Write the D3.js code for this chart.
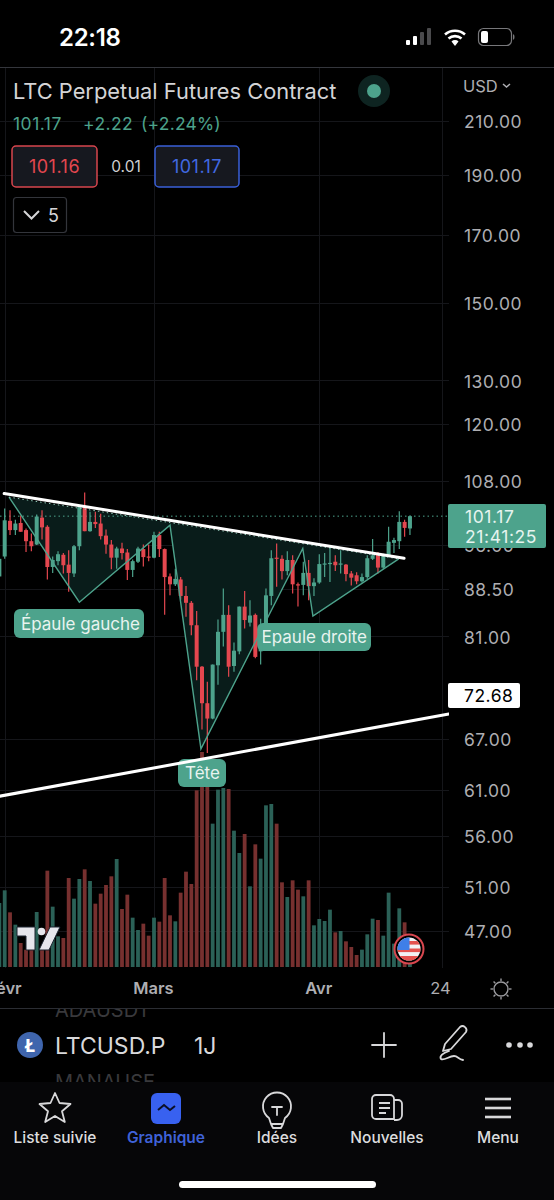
<!DOCTYPE html>
<html><head><meta charset="utf-8">
<script src="https://cdn.jsdelivr.net/npm/d3@7/dist/d3.min.js"></script>
<style>
html,body{margin:0;padding:0;background:#000;overflow:hidden}
svg{display:block}
text{font-family:Inter,Roboto,"Noto Sans",sans-serif}
</style></head><body>
<svg id="c" width="554" height="1200"></svg>
<script>
// Day index: 0 = 1 March
const firstDay = -29;
const opens  = [90.5,93.9,100.3,98.6,99.9,98.6,96.6,96.0,100.9,99.2,92.1,93.1,94.2,92.5,91.0,95.7,102.9,98.4,100.1,99.8,97.6,96.0,93.7,95.3,94.6,91.6,93.0,95.2,93.9,93.7,97.7,95.2,90.5,89.2,90.0,87.3,86.2,82.7,76.6,71.6,69.6,76.8,81.7,84.3,76.7,78.8,85.6,83.1,84.3,78.8,83.0,87.3,93.7,93.5,91.4,93.3,89.2,89.1,91.1,88.9,89.5,92.6,92.7,93.0,92.5,92.5,91.0,90.7,89.7,90.4,93.5,94.3,92.0,94.1,96.3,96.6,100.1,98.9];
const highs  = [96.2,102.6,102.3,100.5,101.3,98.9,98.0,101.5,102.3,99.5,93.9,94.8,94.5,95.0,95.9,103.2,105.7,102.0,102.0,101.6,98.7,96.8,95.6,96.3,95.2,93.4,95.6,96.0,96.0,98.3,98.3,95.3,91.0,91.8,90.4,88.9,86.5,84.9,76.7,74.5,76.9,83.6,88.5,85.8,80.1,85.6,88.1,86.6,84.5,83.7,88.5,95.0,96.2,94.1,94.8,94.1,89.5,93.0,93.3,90.2,94.3,94.5,95.7,94.1,95.0,92.6,91.4,91.2,91.0,94.1,97.0,94.7,94.4,99.2,97.2,102.1,100.5,101.3];
const lows   = [90.3,93.5,97.7,97.7,98.3,94.7,94.8,95.9,96.9,90.0,91.1,92.4,91.0,88.0,90.4,95.0,98.4,98.3,99.0,96.9,94.4,91.7,91.8,93.4,89.9,90.4,92.8,92.2,93.1,93.6,93.8,84.3,87.4,88.9,86.7,84.0,81.2,74.7,68.2,65.3,69.5,74.1,79.5,75.2,75.9,78.4,82.2,82.5,77.8,76.9,83.0,85.8,88.8,90.0,90.7,87.7,85.6,87.4,86.6,87.3,89.3,90.4,89.6,91.4,91.0,89.7,89.0,89.2,89.5,90.1,93.3,91.0,91.8,93.9,94.5,95.2,97.4,97.7];
const closes = [93.5,100.4,98.6,99.8,98.3,96.6,95.7,101.1,99.1,92.1,93.3,94.3,92.4,91.1,95.7,102.9,98.4,100.1,99.7,97.5,96.0,93.7,95.3,94.5,91.6,93.1,95.3,93.8,93.7,97.7,95.2,90.4,89.2,90.1,87.3,86.2,82.7,76.6,71.6,69.6,76.9,81.7,84.3,76.6,78.9,85.6,83.5,84.2,78.0,82.2,87.4,93.6,93.6,91.4,93.3,89.2,89.1,91.1,88.9,89.5,92.6,92.7,92.8,92.4,92.7,90.9,90.3,89.7,90.4,93.6,94.1,92.0,94.1,96.5,96.8,100.1,99.0,101.17];
const volumes = [192,230,164,127,72,52,52,165,52,289,181,92,87,267,205,264,293,258,190,220,246,272,324,174,217,148,111,130,94,148,136,267,155,137,223,286,249,530,645,570,430,532,537,534,409,342,399,242,368,325,485,489,430,254,210,260,232,212,260,125,144,138,172,104,108,77,60,36,52,98,145,141,94,223,70,176,134,22];
const priceTicks = [210,190,170,150,130,120,108,96,88.5,81,67,61,56,51,47];
const dayTicks = [-28,0,31,54];
const dayLabels = ["Févr","Mars","Avr","24"];
const patternDays   = [-27.2,-14,3,8.8,27.9,29.8,45.9];
const patternPrices = [104.8,86.3,99.5,65.8,95.3,84.1,93.5];
const upperTrendDays = [-28.1,46.9];
const upperTrendPrices = [105.5,93.6];
const lowerTrendDays = [-28.9,55.3];
const lowerTrendPrices = [60.3,70.2];
const lastPrice = 101.17;
const alertPrice = "72.68";
const patternLabels = ["Épaule gauche","Tête","Epaule droite"];
const tabLabels = ["Liste suivie","Graphique","Idées","Nouvelles","Menu"];

const GREEN="#4da38c", RED="#e4474f", VGREEN="#2b6157", VRED="#77302f", AX="#aeaeb2", GRID="#15161a";
const svg=d3.select("#c");
svg.append("rect").attr("width",554).attr("height",1200).attr("fill","#000");
const x=d3.scaleLinear().domain([0,31]).range([154,319.3]);
const y=d3.scaleLog().domain([210,47]).range([121,931]);
const v=d3.scaleLinear().domain([0,600]).range([967,767]);
const candles=opens.map((o,i)=>({day:firstDay+i,o,h:highs[i],l:lows[i],c:closes[i],vol:volumes[i],up:closes[i]>=o}));

svg.append("defs").append("clipPath").attr("id","plot").append("rect").attr("x",0).attr("y",68).attr("width",449).attr("height",900);
svg.append("line").attr("x1",0).attr("x2",554).attr("y1",67.5).attr("y2",67.5).attr("stroke","#34363c");
svg.append("line").attr("x1",0).attr("x2",554).attr("y1",1008.5).attr("y2",1008.5).attr("stroke","#2b2d33");

// grid
const plot=svg.append("g").attr("clip-path","url(#plot)");
plot.append("g").selectAll("line").data(priceTicks).join("line").attr("x1",0).attr("x2",449)
  .attr("y1",d=>Math.round(y(d))+.5).attr("y2",d=>Math.round(y(d))+.5).attr("stroke",GRID);
plot.append("g").selectAll("line").data(dayTicks).join("line").attr("y1",68).attr("y2",968)
  .attr("x1",d=>Math.round(x(d))+.5).attr("x2",d=>Math.round(x(d))+.5).attr("stroke",GRID);

// volume
plot.append("g").selectAll("rect").data(candles).join("rect")
  .attr("x",d=>x(d.day)-1.9).attr("width",3.8).attr("y",d=>v(d.vol)).attr("height",d=>967-v(d.vol))
  .attr("fill",d=>d.up?VGREEN:VRED);

// pattern
const pts=patternDays.map((d,i)=>[x(d),y(patternPrices[i])]);
const lineGen=d3.line();
plot.append("path").attr("d",lineGen(pts)+"Z").attr("fill","#091c1a");

// pills under the candles
const pill=(px,py,w,h,t,tx)=>{
  plot.append("rect").attr("x",px).attr("y",py).attr("width",w).attr("height",h).attr("rx",6).attr("fill",GREEN);
  plot.append("text").attr("x",tx).attr("y",py+h/2+6).attr("font-size",17).attr("fill","#e8f3ef").text(t);
};
pill(14,609,130,29,patternLabels[0],21);
pill(178,759,48,28,patternLabels[1],185);
pill(257,623,114,28,patternLabels[2],261.5);

// last price dotted line
plot.append("line").attr("x1",0).attr("x2",449).attr("y1",y(lastPrice)).attr("y2",y(lastPrice))
  .attr("stroke",GREEN).attr("stroke-width",1).attr("stroke-dasharray","1.5 3");

// candles
const cg=plot.append("g").selectAll("g").data(candles).join("g");
cg.append("line").attr("x1",d=>x(d.day)).attr("x2",d=>x(d.day)).attr("y1",d=>y(d.h)).attr("y2",d=>y(d.l))
  .attr("stroke",d=>d.up?GREEN:RED).attr("stroke-width",1.2);
cg.append("rect").attr("x",d=>x(d.day)-2).attr("width",4)
  .attr("y",d=>y(Math.max(d.o,d.c))).attr("height",d=>Math.max(1.2,Math.abs(y(d.o)-y(d.c))))
  .attr("fill",d=>d.up?GREEN:RED);

// pattern outline + neckline
plot.append("path").attr("d",lineGen(pts)).attr("fill","none").attr("stroke",GREEN).attr("stroke-width",1.4);
plot.append("line").attr("x1",pts[0][0]).attr("y1",pts[0][1]).attr("x2",pts[6][0]).attr("y2",pts[6][1])
  .attr("stroke","#8fc7b6").attr("stroke-width",1).attr("stroke-dasharray","1.5 3");
// white trend lines
[[upperTrendDays,upperTrendPrices],[lowerTrendDays,lowerTrendPrices]].forEach(([d,p])=>{
  plot.append("line").attr("x1",x(d[0])).attr("y1",y(p[0])).attr("x2",x(d[1])).attr("y2",y(p[1]))
    .attr("stroke","#fff").attr("stroke-width",3).attr("stroke-linecap","round");
});

// price axis
const py=svg.append("g").attr("transform","translate(464,1)").call(d3.axisRight(y).tickValues(priceTicks).tickSize(0).tickPadding(0).tickFormat(d3.format(".2f")));
py.select(".domain").remove();
py.selectAll("text").attr("font-size",17.5).attr("fill",AX).attr("font-family","Inter,Roboto,sans-serif").attr("letter-spacing",".5");
// day axis
const dx=svg.append("g").attr("transform","translate(0,982)").call(d3.axisBottom(x).tickValues(dayTicks).tickSize(0).tickPadding(0).tickFormat(d=>dayLabels[dayTicks.indexOf(d)]));
dx.select(".domain").remove();
dx.selectAll("text").attr("font-size",16.5).attr("font-weight",d=>d==54?400:600).attr("fill",AX).attr("font-family","Inter,Roboto,sans-serif")
  .attr("dx",d=>d==54?-2:-1);

// price tag
svg.append("rect").attr("x",448).attr("y",504).attr("width",98).attr("height",44).attr("rx",2).attr("fill",GREEN);
const tag=(t,yy,s)=>svg.append("text").attr("x",465).attr("y",yy).attr("font-size",s).attr("fill","#e6f4ef").attr("letter-spacing",".6").text(t);
tag(d3.format(".2f")(lastPrice),523,17.5); tag("21:41:25",543,17.5);
svg.append("rect").attr("x",448).attr("y",683).attr("width",72).attr("height",25).attr("rx",2).attr("fill","#fff");
svg.append("text").attr("x",464).attr("y",702).attr("font-size",17.5).attr("fill","#000").attr("letter-spacing",".5").text(alertPrice);

// header
const T=(t,xx,yy,s,f,o={})=>{const e=svg.append("text").attr("x",xx).attr("y",yy).attr("font-size",s).attr("fill",f).text(t);Object.entries(o).forEach(([k,w])=>e.attr(k,w));return e;};
T("LTC Perpetual Futures Contract",13,99,21.85,"#d4d4d6");
svg.append("circle").attr("cx",374).attr("cy",91).attr("r",16).attr("fill","#0e2421");
svg.append("circle").attr("cx",374).attr("cy",91).attr("r",7).attr("fill",GREEN);
T("USD",463,92,16.5,AX);
svg.append("path").attr("d","M503 84l3.5 3 3.5-3").attr("fill","none").attr("stroke",AX).attr("stroke-width",1.5);
T("101.17",13,130,17.5,GREEN,{"letter-spacing":".5"});
T("+2.22",83,130,17.5,GREEN,{"letter-spacing":".4"});
T("(+2.24%)",141,130,17.5,GREEN,{"letter-spacing":".2"});
svg.append("rect").attr("x",12).attr("y",146).attr("width",85).attr("height",41).attr("rx",4).attr("fill","#16181f").attr("stroke","#d8454d").attr("stroke-width",1.5);
T("101.16",54.5,173,18,"#e4474f",{"text-anchor":"middle","letter-spacing":".5"});
T("0.01",126,172,15.5,"#cfcfd2",{"text-anchor":"middle"});
svg.append("rect").attr("x",155).attr("y",146).attr("width",84).attr("height",41).attr("rx",4).attr("fill","#16181f").attr("stroke","#3a5fd8").attr("stroke-width",1.5);
T("101.17",197,173,18,"#4169e1",{"text-anchor":"middle","letter-spacing":".5"});
svg.append("rect").attr("x",13.5).attr("y",197.5).attr("width",53).attr("height",35).attr("rx",3).attr("fill","#000").attr("stroke","#33353b").attr("stroke-width",1.2);
svg.append("path").attr("d","M24 211l7.5 7.5 7.5-7.5").attr("fill","none").attr("stroke","#d5d5d7").attr("stroke-width",2);
T("5",48,222,18,"#d5d5d7");

// status bar
T("22:18",59,46,24,"#fff",{"font-weight":600,"letter-spacing":"-.3"});
[[406,40,4,5,"#fff"],[413,36,4,9,"#fff"],[420,32,4,13,"#4a4a4c"],[427,28,4,17,"#4a4a4c"]].forEach(a=>svg.append("rect").attr("x",a[0]).attr("y",a[1]).attr("width",a[2]).attr("height",a[3]).attr("rx",1).attr("fill",a[4]));
svg.append("path").attr("d","M445 34.5a15 15 0 0 1 20 0M448.5 38.5a10 10 0 0 1 13 0").attr("fill","none").attr("stroke","#fff").attr("stroke-width",2.6);
svg.append("path").attr("d","M451.5 41.5a5 5 0 0 1 7 0L455 46z").attr("fill","#fff");
svg.append("rect").attr("x",478.5).attr("y",28.5).attr("width",33).attr("height",17).attr("rx",5).attr("fill","none").attr("stroke","#77777a").attr("stroke-width",1.2);
svg.append("rect").attr("x",481).attr("y",31).attr("width",7).attr("height",12).attr("rx",2).attr("fill","#fff");
svg.append("path").attr("d","M513 34v6a3 3 0 0 0 1.5-3 3 3 0 0 0-1.5-3").attr("fill","#77777a");

// TradingView logo
svg.append("path").attr("d","M17 927h18v23h-9v-14h-9zM50 927h10l-11 23h-10zM38 927").attr("fill","#e6e6ec").attr("stroke","#1c2430").attr("stroke-width",1);
svg.append("circle").attr("cx",41.5).attr("cy",931.5).attr("r",3.8).attr("fill","#e6e6ec");

// flag
svg.append("circle").attr("cx",409).attr("cy",949).attr("r",14.5).attr("fill","#000").attr("stroke","#d9474f").attr("stroke-width",2);
svg.append("clipPath").attr("id","flag").append("circle").attr("cx",409).attr("cy",949).attr("r",11.5);
const fg=svg.append("g").attr("clip-path","url(#flag)");
fg.append("rect").attr("x",397).attr("y",937).attr("width",24).attr("height",24).attr("fill","#f2f2f4");
[941,948.5,956].forEach(yy=>fg.append("rect").attr("x",397).attr("y",yy).attr("width",24).attr("height",3.6).attr("fill","#e5534f"));
fg.append("rect").attr("x",397).attr("y",956).attr("width",24).attr("height",6).attr("fill","#e5534f");
fg.append("rect").attr("x",397).attr("y",937).attr("width",12.5).attr("height",13).attr("fill","#3f7fe8");

// sun icon
svg.append("circle").attr("cx",501).attr("cy",989).attr("r",7).attr("fill","none").attr("stroke","#9a9a9e").attr("stroke-width",1.4);
d3.range(8).forEach(k=>{const a=k*Math.PI/4;svg.append("line").attr("x1",501+8*Math.cos(a)).attr("y1",989+8*Math.sin(a)).attr("x2",501+10.5*Math.cos(a)).attr("y2",989+10.5*Math.sin(a)).attr("stroke","#9a9a9e").attr("stroke-width",1.4);});

// ghost list rows
svg.append("clipPath").attr("id","g1").append("rect").attr("x",0).attr("y",1009).attr("width",554).attr("height",10);
svg.append("clipPath").attr("id","g2").append("rect").attr("x",0).attr("y",1068).attr("width",554).attr("height",14);
T("ADAUSDT",55,1017,20,"#39393c",{"clip-path":"url(#g1)"});
T("MANAUSE",55,1089,20,"#39393c",{"clip-path":"url(#g2)"});

// symbol row
svg.append("circle").attr("cx",30).attr("cy",1045).attr("r",13).attr("fill","#3f65ad");
T("Ł",30,1051.5,17,"#fff",{"text-anchor":"middle","font-weight":800});
T("LTCUSD.P",55,1054,23,"#d9d9db");
T("1J",194,1054,23,"#d9d9db");
const ic="#d8d8da";
const P=(d,w=1.8)=>svg.append("path").attr("d",d).attr("fill","none").attr("stroke",ic).attr("stroke-width",w).attr("stroke-linejoin","round").attr("stroke-linecap","round");
P("M372 1045h24M384 1033v24");
P("M445 1044l15-17a4 4 0 0 1 6 5l-15 17-8 2zM449 1051c-6 2-10 5-8 8 3 2 8-3 13-3 4 0 4 3 9 4");
[509,520,530].forEach(c=>svg.append("circle").attr("cx",c).attr("cy",1045).attr("r",2.8).attr("fill",ic));

// tab bar
svg.append("rect").attr("x",0).attr("y",1082).attr("width",554).attr("height",118).attr("fill","#060608");
P("M55 1093l4.5 10 11 1-8.5 7.3 2.8 10.7-9.8-6-9.8 6 2.8-10.7-8.5-7.3 11-1z");
svg.append("rect").attr("x",151).attr("y",1093).attr("width",30).attr("height",31).attr("rx",6).attr("fill","#3861f0");
svg.append("path").attr("d","M158 1110l6-5 6 5 5-4").attr("fill","none").attr("stroke","#0b0f25").attr("stroke-width",2);
P("M269 1118a14 14 0 1 1 16 0l-2 6h-12zM271 1124l2 4h8l2-4M272 1107h10M277 1107v8");
svg.append("path").attr("d","M376 1095h14a4 4 0 0 1 4 4v20h-18a4 4 0 0 1-4-4v-16a4 4 0 0 1 4-4zM394 1100h4a4 4 0 0 1 4 4v11a5 5 0 0 1-5 5h-3M379 1103h11M379 1108h11M379 1113h7").attr("fill","none").attr("stroke",ic).attr("stroke-width",1.8);
[1099,1108,1117].forEach(yy=>svg.append("rect").attr("x",485).attr("y",yy-1.3).attr("width",26).attr("height",2.6).attr("fill",ic));
const tabX=[55,166,277,387,498];
tabLabels.forEach((t,i)=>T(t,tabX[i],1143,15.5,i==1?"#3f62d8":"#dcdcde",{"text-anchor":"middle","font-weight":i==1?600:500}));
svg.append("rect").attr("x",179).attr("y",1181).attr("width",197).attr("height",7).attr("rx",3.5).attr("fill","#fff");
</script></body></html>
